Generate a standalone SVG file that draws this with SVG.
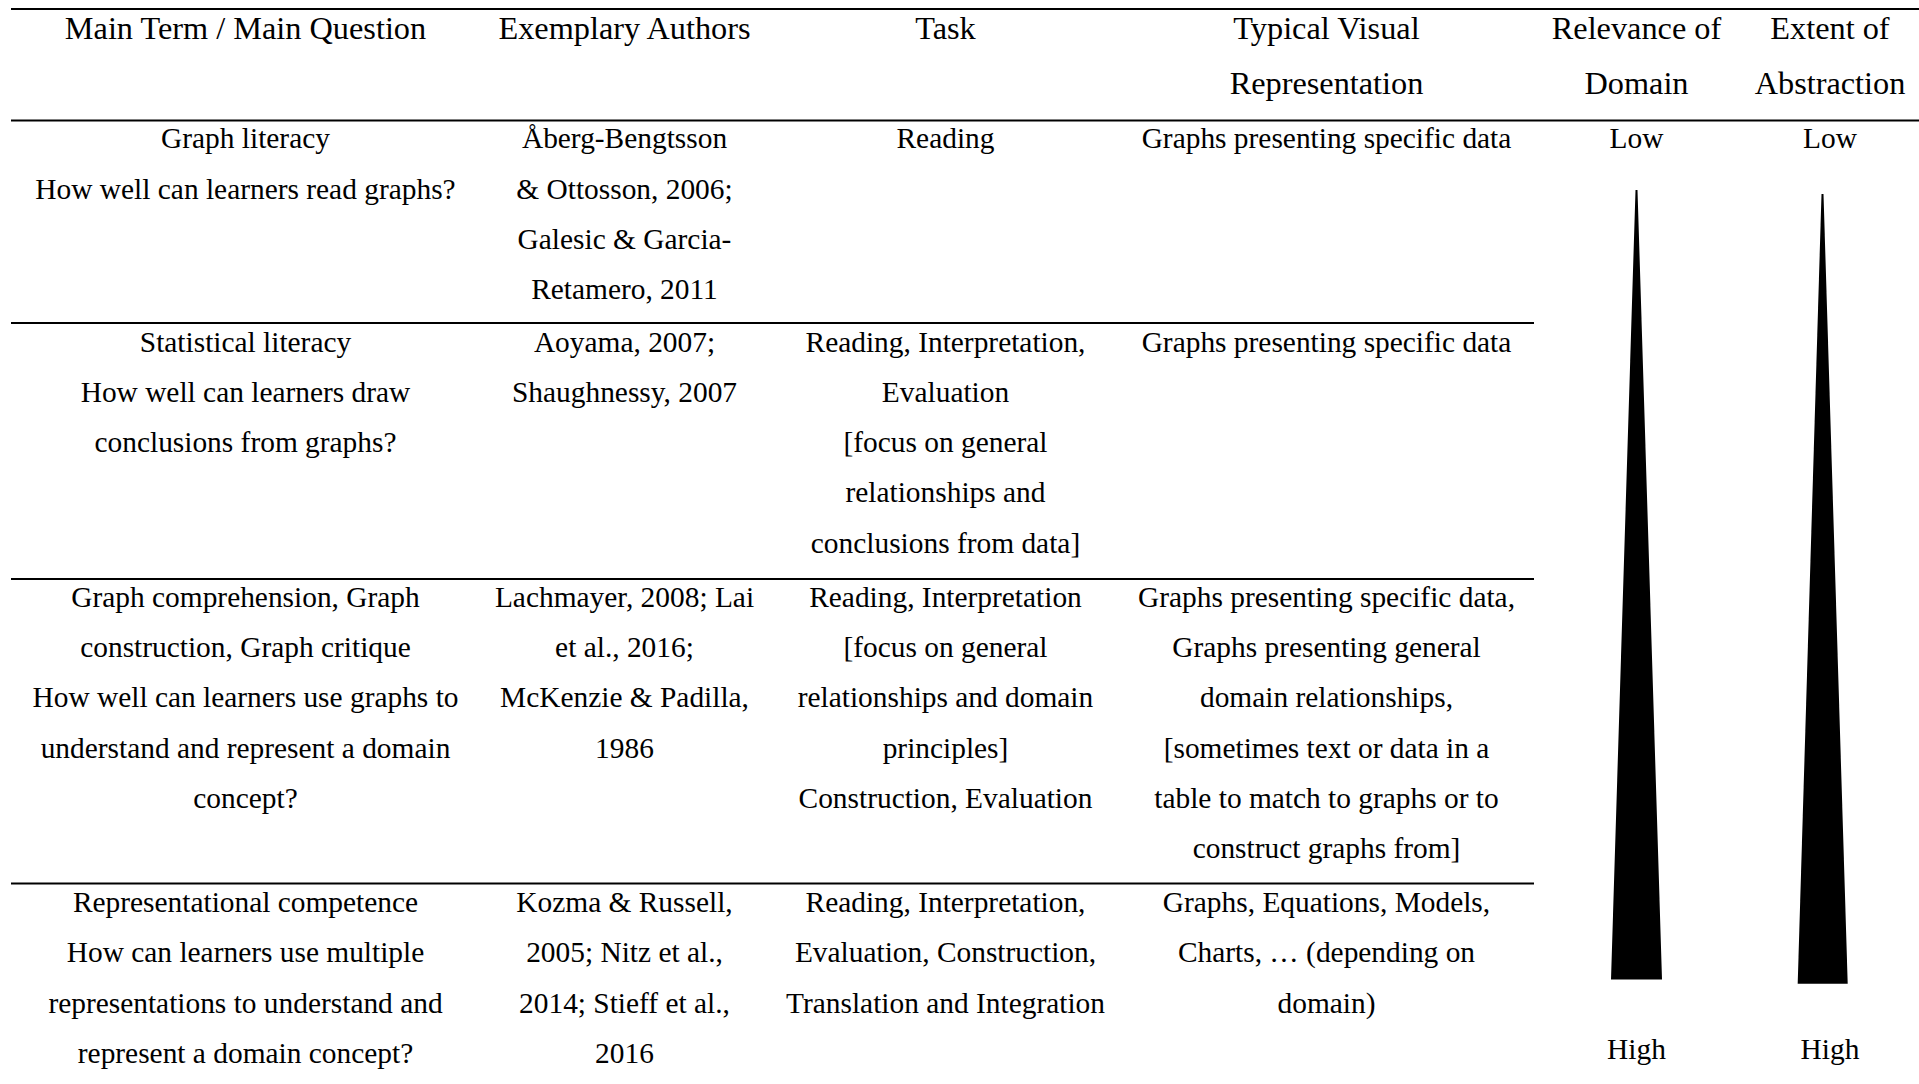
<svg xmlns="http://www.w3.org/2000/svg" width="1919" height="1084" viewBox="0 0 1919 1084">
  <style>
    text { font-family: "Liberation Serif", "Times New Roman", serif; font-size: 29.4px; fill: #000; text-anchor: middle; }
    #header text { font-size: 32.3px; }
    .rule { stroke: #000; stroke-width: 2; fill: none; }
    .wedge { fill: #000; }
  </style>
  <rect width="1919" height="1084" fill="#fff"/>

  <!-- table rules -->
  <g id="rules">
    <line class="rule" x1="11" y1="9" x2="1919" y2="9"/>
    <line class="rule" x1="11" y1="120.5" x2="1919" y2="120.5"/>
    <line class="rule" x1="11" y1="323" x2="1534" y2="323"/>
    <line class="rule" x1="11" y1="579" x2="1534" y2="579"/>
    <line class="rule" x1="11" y1="883.5" x2="1534" y2="883.5"/>
  </g>

  <!-- header row -->
  <g id="header">
    <text x="245.5" y="39">Main Term / Main Question</text>
    <text x="624.5" y="39">Exemplary Authors</text>
    <text x="945.5" y="39">Task</text>
    <text x="1326.5" y="39">Typical Visual</text>
    <text x="1326.5" y="94">Representation</text>
    <text x="1636.5" y="39">Relevance of</text>
    <text x="1636.5" y="94">Domain</text>
    <text x="1830" y="39">Extent of</text>
    <text x="1830" y="94">Abstraction</text>
  </g>

  <!-- row 1: graph literacy -->
  <g id="row-graph-literacy">
    <text x="245.5" y="148.3">Graph literacy</text>
    <text x="245.5" y="198.6">How well can learners read graphs?</text>
    <text x="624.5" y="148.3">Åberg-Bengtsson</text>
    <text x="624.5" y="198.6">&amp; Ottosson, 2006;</text>
    <text x="624.5" y="248.9">Galesic &amp; Garcia-</text>
    <text x="624.5" y="299.2">Retamero, 2011</text>
    <text x="945.5" y="148.3">Reading</text>
    <text x="1326.5" y="148.3">Graphs presenting specific data</text>
  </g>

  <!-- row 2: statistical literacy -->
  <g id="row-statistical-literacy">
    <text x="245.5" y="351.5">Statistical literacy</text>
    <text x="245.5" y="401.8">How well can learners draw</text>
    <text x="245.5" y="452.1">conclusions from graphs?</text>
    <text x="624.5" y="351.5">Aoyama, 2007;</text>
    <text x="624.5" y="401.8">Shaughnessy, 2007</text>
    <text x="945.5" y="351.5">Reading, Interpretation,</text>
    <text x="945.5" y="401.8">Evaluation</text>
    <text x="945.5" y="452.1">[focus on general</text>
    <text x="945.5" y="502.4">relationships and</text>
    <text x="945.5" y="552.7">conclusions from data]</text>
    <text x="1326.5" y="351.5">Graphs presenting specific data</text>
  </g>

  <!-- row 3: graph comprehension -->
  <g id="row-graph-comprehension">
    <text x="245.5" y="606.7">Graph comprehension, Graph</text>
    <text x="245.5" y="657">construction, Graph critique</text>
    <text x="245.5" y="707.3">How well can learners use graphs to</text>
    <text x="245.5" y="757.6">understand and represent a domain</text>
    <text x="245.5" y="807.9">concept?</text>
    <text x="624.5" y="606.7">Lachmayer, 2008; Lai</text>
    <text x="624.5" y="657">et al., 2016;</text>
    <text x="624.5" y="707.3">McKenzie &amp; Padilla,</text>
    <text x="624.5" y="757.6">1986</text>
    <text x="945.5" y="606.7">Reading, Interpretation</text>
    <text x="945.5" y="657">[focus on general</text>
    <text x="945.5" y="707.3">relationships and domain</text>
    <text x="945.5" y="757.6">principles]</text>
    <text x="945.5" y="807.9">Construction, Evaluation</text>
    <text x="1326.5" y="606.7">Graphs presenting specific data,</text>
    <text x="1326.5" y="657">Graphs presenting general</text>
    <text x="1326.5" y="707.3">domain relationships,</text>
    <text x="1326.5" y="757.6">[sometimes text or data in a</text>
    <text x="1326.5" y="807.9">table to match to graphs or to</text>
    <text x="1326.5" y="858.2">construct graphs from]</text>
  </g>

  <!-- row 4: representational competence -->
  <g id="row-representational-competence">
    <text x="245.5" y="912">Representational competence</text>
    <text x="245.5" y="962.3">How can learners use multiple</text>
    <text x="245.5" y="1012.6">representations to understand and</text>
    <text x="245.5" y="1062.9">represent a domain concept?</text>
    <text x="624.5" y="912">Kozma &amp; Russell,</text>
    <text x="624.5" y="962.3">2005; Nitz et al.,</text>
    <text x="624.5" y="1012.6">2014; Stieff et al.,</text>
    <text x="624.5" y="1062.9">2016</text>
    <text x="945.5" y="912">Reading, Interpretation,</text>
    <text x="945.5" y="962.3">Evaluation, Construction,</text>
    <text x="945.5" y="1012.6">Translation and Integration</text>
    <text x="1326.5" y="912">Graphs, Equations, Models,</text>
    <text x="1326.5" y="962.3">Charts, … (depending on</text>
    <text x="1326.5" y="1012.6">domain)</text>
  </g>

  <!-- low-to-high scales -->
  <g id="scale-domain-relevance">
    <text x="1636.5" y="148.3">Low</text>
    <polygon class="wedge" points="1635.5,190 1637.5,190 1662,979.5 1611,979.5"/>
    <text x="1636.5" y="1058.5">High</text>
  </g>
  <g id="scale-abstraction">
    <text x="1830" y="148.3">Low</text>
    <polygon class="wedge" points="1821.5,194 1823.5,194 1847.7,983.7 1797.7,983.7"/>
    <text x="1830" y="1058.5">High</text>
  </g>
</svg>
